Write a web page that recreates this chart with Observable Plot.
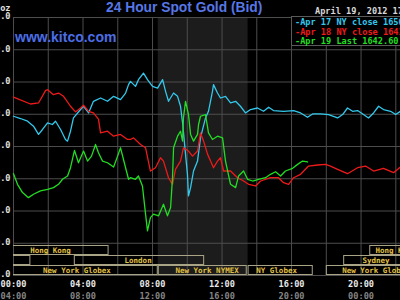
<!DOCTYPE html>
<html><head><meta charset="utf-8">
<script src="https://cdn.jsdelivr.net/npm/d3@7"></script>
<script src="https://cdn.jsdelivr.net/npm/@observablehq/plot@0.6"></script>
<style>
html,body{margin:0;padding:0;background:#000;overflow:hidden}
#wrap{position:relative;width:400px;height:300px;background:#000;overflow:hidden}
#wrap svg{position:absolute;left:0}
.ov{position:absolute;white-space:nowrap;line-height:1}
.mono{font-family:"DejaVu Sans Mono",monospace;font-size:8.6px;font-weight:bold}
#title{left:106px;top:1.3px;font-family:"Liberation Sans",Arial,sans-serif;font-weight:bold;font-size:13.8px;color:#5777e6}
#kitco{left:15px;top:30.2px;font-family:"Liberation Sans",Arial,sans-serif;font-weight:bold;font-size:14px;color:#4c6ee6}
#date{left:315px;top:6.5px;color:#d8d8d8}
#legend{left:291px;top:16px;width:130px;height:28px;border:1px solid #5a5a5a;background:#000}
</style></head>
<body><div id="wrap"></div>
<script>
// Time axis: hours since 00:00 New York time
const nyTicks = [0, 4, 8, 12, 16, 20];
const nyLabels = ["00:00", "04:00", "08:00", "12:00", "16:00", "20:00"];
const gmtLabels = ["04:00", "08:00", "12:00", "16:00", "20:00", "00:00"];
const gridHours = [0, 2, 4, 6, 8, 10, 12, 14, 16, 18, 20, 22];
const priceTicks = [1625, 1630, 1635, 1640, 1645, 1650, 1655, 1660, 1665];

// Series: [hour, price]
const apr17 = [[0,1649.69],[0.40,1649.34],[0.81,1648.92],[1.15,1648.15],[1.44,1646.87],[1.67,1647.64],[1.96,1648.66],[2.24,1648.41],[2.42,1648.92],[2.71,1647.64],[2.99,1646.09],[3.11,1645.83],[3.28,1647.37],[3.45,1649.43],[3.86,1650.73],[4.03,1651.24],[4.32,1650.20],[4.60,1652.01],[5.01,1652.52],[5.41,1652.01],[5.76,1652.78],[6.16,1652.27],[6.45,1653.29],[6.62,1654.59],[6.73,1655.10],[7.02,1654.32],[7.19,1655.36],[7.48,1656.38],[7.71,1655.36],[8.00,1654.32],[8.29,1654.06],[8.58,1655.36],[8.75,1653.55],[8.92,1652.01],[9.21,1653.29],[9.44,1652.78],[9.61,1651.24],[9.73,1648.66],[9.90,1643.78],[10.01,1640.69],[10.07,1637.34],[10.19,1638.62],[10.36,1641.20],[10.59,1642.74],[10.76,1646.34],[11.05,1649.43],[11.22,1650.46],[11.45,1653.55],[11.51,1654.59],[11.74,1653.29],[11.91,1652.52],[12.20,1652.78],[12.49,1651.75],[12.78,1652.01],[13.06,1651.24],[13.35,1650.20],[13.64,1650.73],[14.04,1650.97],[14.39,1650.46],[14.68,1651.08],[14.96,1650.57],[15.54,1650.46],[16.12,1650.57],[16.52,1650.20],[16.92,1649.54],[17.21,1650.05],[17.67,1650.05],[18.13,1649.95],[18.65,1649.43],[18.94,1649.95],[19.22,1650.97],[19.51,1650.46],[19.80,1650.57],[20.14,1649.95],[20.43,1649.43],[20.72,1650.20],[21.01,1651.24],[21.29,1650.73],[21.70,1650.46],[21.99,1649.95],[22.27,1650.46]];
const apr18 = [[0,1652.67],[0.98,1651.59],[1.44,1651.75],[1.84,1653.66],[1.96,1653.81],[2.30,1653.04],[2.59,1653.29],[2.88,1652.78],[3.28,1651.24],[3.57,1650.36],[3.86,1650.97],[4.03,1651.39],[4.32,1650.46],[4.60,1650.20],[4.89,1649.23],[5.01,1647.11],[5.41,1647.37],[5.76,1646.60],[6.16,1646.87],[6.56,1646.09],[6.73,1646.09],[6.91,1646.34],[7.31,1645.32],[7.60,1644.80],[7.88,1641.20],[8.17,1641.71],[8.46,1643.25],[8.63,1642.74],[8.92,1640.16],[9.15,1639.14],[9.32,1641.46],[9.61,1642.74],[9.78,1644.80],[10.07,1644.29],[10.30,1643.51],[10.59,1644.29],[10.76,1647.11],[10.94,1645.83],[11.17,1643.78],[11.34,1642.74],[11.51,1641.71],[11.74,1642.74],[11.91,1643.25],[12.09,1641.20],[12.49,1641.20],[12.89,1640.16],[13.24,1639.65],[13.53,1639.14],[13.93,1638.88],[14.22,1639.65],[14.79,1640.16],[15.25,1640.16],[15.54,1639.39],[15.83,1639.14],[16.12,1640.16],[16.52,1640.69],[16.98,1641.97],[17.50,1642.13],[17.96,1642.23],[18.24,1641.97],[18.65,1641.46],[19.22,1640.78],[19.80,1641.71],[20.26,1641.97],[20.72,1641.20],[21.29,1641.62],[21.87,1640.94],[22.27,1641.82]];
const apr19 = [[0,1640.78],[0.23,1639.14],[0.52,1637.85],[0.86,1637.07],[1.15,1637.60],[1.55,1638.11],[1.96,1638.37],[2.30,1638.62],[2.59,1639.14],[2.82,1639.92],[3.11,1640.42],[3.28,1641.71],[3.51,1644.39],[3.74,1642.48],[4.03,1644.29],[4.26,1642.74],[4.49,1643.51],[4.72,1645.32],[4.89,1644.02],[5.12,1642.74],[5.41,1642.48],[5.76,1641.81],[5.99,1643.51],[6.16,1644.80],[6.45,1641.71],[6.62,1639.92],[6.73,1640.16],[7.02,1639.92],[7.19,1640.42],[7.42,1638.88],[7.60,1634.51],[7.71,1631.93],[7.88,1633.98],[8.06,1634.51],[8.35,1634.25],[8.63,1636.05],[8.86,1634.25],[9.04,1635.53],[9.15,1640.16],[9.21,1644.80],[9.44,1646.60],[9.61,1647.37],[9.73,1645.83],[9.78,1649.43],[9.90,1652.01],[10.07,1649.95],[10.19,1646.87],[10.36,1645.83],[10.59,1646.87],[10.65,1648.41],[10.76,1649.69],[11.05,1649.95],[11.22,1647.11],[11.45,1646.09],[11.74,1646.60],[12.03,1646.34],[12.20,1642.74],[12.49,1639.14],[12.78,1638.62],[12.95,1640.42],[13.24,1641.20],[13.47,1639.92],[13.76,1639.65],[14.10,1639.92],[14.50,1640.16],[14.79,1640.69],[15.08,1641.09],[15.37,1640.42],[15.65,1641.20],[16.06,1641.62],[16.35,1642.23],[16.63,1642.74],[16.92,1642.60]];

// NYMEX floor hours (shaded)
const nymexHours = [{start: 8.33, end: 13.5}];

// Trading sessions: row 0 = Asia, 1 = Sydney/London, 2 = New York
const sessionNames = ["Hong Kong", "", "London", "New York Globex", "New York NYMEX", "NY Globex", "New York Globex", "Sydney", "Hong Kong"];
const sessionRows  = [0, 1, 1, 2, 2, 2, 2, 1, 0];
const sessionStart = [-3, -5, 3.5, -6, 8.33, 13.5, 18.0, 19.0, 20.5];
const sessionEnd   = [5.5, 1.0, 11.0, 8.33, 13.45, 17.25, 41, 25, 29.5];
const sessionLabelAt = [2.13, 0, 7.17, 3.65, 11.14, 15.14, 20.86, 20.86, 22.0];
const sessions = sessionNames.map((name, i) => ({name, row: sessionRows[i], start: sessionStart[i], end: sessionEnd[i], label: sessionLabelAt[i]}));

const legendItems = ["Apr 17 NY close 1650.50", "Apr 18 NY close 1641.80", "Apr 19 Last 1642.60"];
const seriesColors = ["#33c8ec", "#ee1a1a", "#22dd22"];

const xDomain = [0, 22.27];
const font = {background: "transparent", fontFamily: "DejaVu Sans Mono, monospace", fontSize: "8.6px", fontWeight: "bold", color: "#ddd"};
const fmt = (labels) => d => labels[nyTicks.indexOf(d)];

const chart = Plot.plot({
  width: 400, height: 300,
  marginTop: 17, marginBottom: 25, marginLeft: 13, marginRight: 0,
  style: font,
  x: {domain: xDomain},
  y: {domain: [1625, 1665]},
  marks: [
    Plot.rect(nymexHours, {x1: "start", x2: "end", fill: "#1c1c1c"}),
    Plot.gridX({ticks: gridHours, stroke: "#4d4d4d", strokeOpacity: 1}),
    Plot.gridY({ticks: priceTicks, stroke: "#4d4d4d", strokeOpacity: 1}),
    Plot.axisY({ticks: priceTicks, tickFormat: d => d.toFixed(1), tickSize: 0, tickPadding: 3, dy: -1, color: "#e0e0e0", label: null}),
    Plot.text(["US$/oz"], {frameAnchor: "top-left", dx: -3, dy: -13, textAnchor: "end", text: d => d, fill: "#e0e0e0"}),
    Plot.axisX({ticks: nyTicks, tickFormat: fmt(nyLabels), tickSize: 0, tickPadding: 5, color: "#e8e8e8", label: null}),
    Plot.axisX({ticks: nyTicks, tickFormat: fmt(gmtLabels), tickSize: 0, tickPadding: 17, color: "#858585", label: null}),
    Plot.line(apr17, {x: d => d[0], y: d => d[1], stroke: seriesColors[0], strokeWidth: 1.3}),
    Plot.line(apr18, {x: d => d[0], y: d => d[1], stroke: seriesColors[1], strokeWidth: 1.3}),
    Plot.line(apr19, {x: d => d[0], y: d => d[1], stroke: seriesColors[2], strokeWidth: 1.3})
  ]
});

const sessionPlot = Plot.plot({
  width: 400, height: 30,
  marginTop: 0, marginBottom: 0, marginLeft: 13, marginRight: 0,
  style: {...font, fontSize: "7.5px"},
  x: {domain: xDomain, axis: null},
  y: {domain: [0, 1, 2], axis: null, padding: 0},
  marks: [
    Plot.barX(sessions, {x1: "start", x2: "end", y: "row", fill: "none", stroke: "#aaa486", strokeWidth: 1, insetTop: 0.5, insetBottom: 0.5, insetLeft: 0.5, insetRight: 0.5, clip: true}),
    Plot.text(sessions.filter(d => d.name), {x: "label", y: "row", text: "name", fill: "#e2c246"})
  ]
});

const wrap = document.getElementById("wrap");
chart.style.top = "0px";
wrap.appendChild(chart);
sessionPlot.style.top = "245px";
wrap.appendChild(sessionPlot);

function addDiv(id, cls, text) {
  const d = document.createElement("div");
  if (id) d.id = id;
  d.className = cls;
  d.textContent = text;
  wrap.appendChild(d);
  return d;
}
addDiv("title", "ov", "24 Hour Spot Gold (Bid)");
addDiv("kitco", "ov", "www.kitco.com");
addDiv("date", "ov mono", "April 19, 2012 17:00 NY Time");
addDiv("legend", "ov", "");
legendItems.forEach((t, i) => {
  const d = addDiv(null, "ov mono", "-" + t);
  d.style.left = "295px";
  d.style.top = (18 + i * 9.5) + "px";
  d.style.color = seriesColors[i];
});
</script></body></html>
